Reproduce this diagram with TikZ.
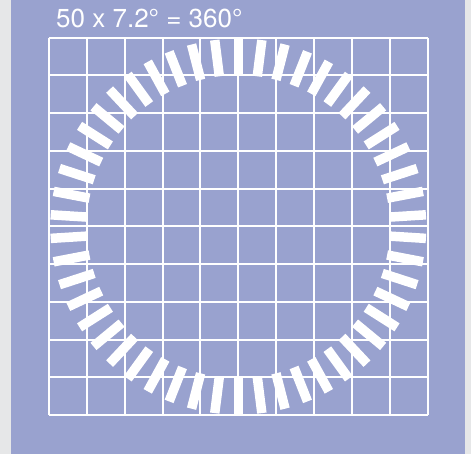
\documentclass[tikz,border=0pt]{standalone}
\usepackage{fontspec}
\setmainfont{TeX Gyre Heros}
\usetikzlibrary{calc}
\definecolor{pagegray}{RGB}{230,231,232}
\definecolor{lavender}{RGB}{153,162,207}
\begin{document}
\begin{tikzpicture}[x=1pt,y=-1pt,
  gridline/.style={draw=white,line width=2pt},
  tickbar/.style={draw=white,line width=9.5pt,line cap=butt},
  title/.style={text=white,inner sep=0pt,anchor=base west,font=\fontsize{26}{30}\selectfont}]
\useasboundingbox (0,0) rectangle (471,454);
\fill[pagegray] (0,0) rectangle (471,454);
\fill[lavender] (11,0) rectangle (465.3,454);
% grid
\foreach \i in {0,...,10}{
  \draw[gridline] ({49+37.85*\i},37.7) -- ({49+37.85*\i},415.2);
  \draw[gridline] (49,{37.7+37.75*\i}) -- (427.5,{37.7+37.75*\i});
}
% bars
\coordinate (c) at (238.3,226.6);
\foreach \k in {0,...,49}{
  \pgfmathsetmacro{\a}{90+7.2*\k}
  \draw[tickbar] ($(c)+({151.5*cos(\a)},{-151.5*sin(\a)})$) -- ($(c)+({188*cos(\a)},{-188*sin(\a)})$);
}
\node[title] (t) at (56,27.3) {50 x 7.2° = 360°};
\end{tikzpicture}
\end{document}
